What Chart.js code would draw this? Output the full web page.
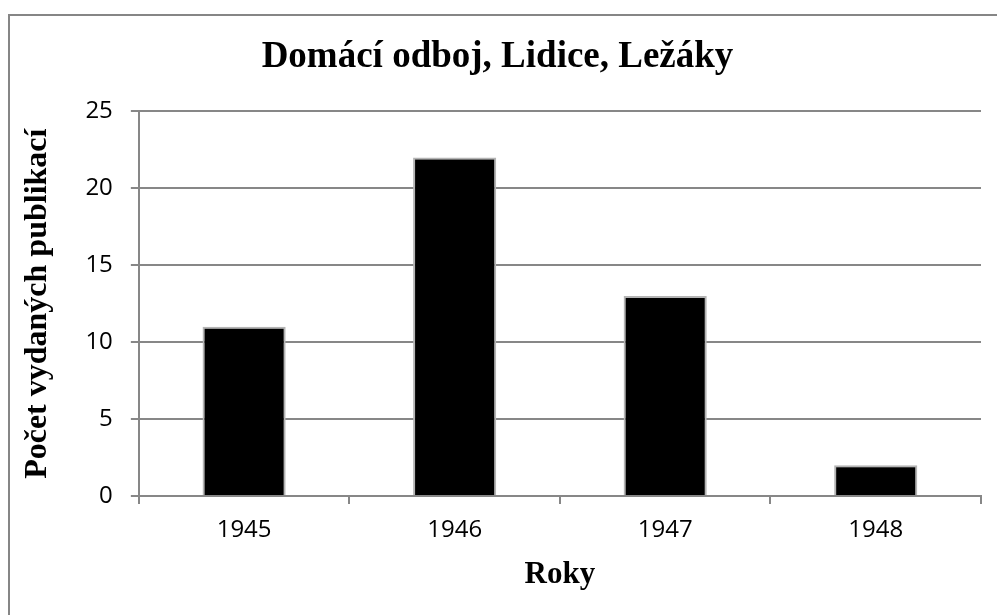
<!DOCTYPE html>
<html>
<head>
<meta charset="utf-8">
<script src="https://cdn.jsdelivr.net/npm/chart.js@4.4.0/dist/chart.umd.min.js"></script>
<style>
  html, body { margin: 0; padding: 0; background: #fff; overflow: hidden; width: 997px; height: 615px; }
  #box {
    position: absolute; left: 8px; top: 14px; width: 1001px; height: 620px;
    border-left: 2px solid #868686; border-top: 2px solid #868686; box-sizing: border-box;
  }
  #chart { display: block; }
</style>
</head>
<body>
<div id="box"><canvas id="chart" width="999" height="618"></canvas></div>
<script>
// data
const years = ['1945', '1946', '1947', '1948'];
const publications = [11, 22, 13, 2];
const yTicks = [0, 5, 10, 15, 20, 25];

const TITLE_FONT = "'Liberation Serif', 'Times New Roman', serif";
const TICK_FONT = "'Open Sans', 'Noto Sans', sans-serif";
const GRID = '#878787';

new Chart(document.getElementById('chart'), {
  type: 'bar',
  data: {
    labels: years,
    datasets: [{
      data: publications,
      backgroundColor: '#000',
      borderColor: '#b4b4b4',
      borderWidth: 2,
      borderSkipped: 'start',
      categoryPercentage: 1,
      barPercentage: 0.395,
    }],
  },
  options: {
    responsive: false,
    animation: false,
    layout: { padding: { top: 10, right: 28, bottom: 40, left: 4 } },
    plugins: {
      legend: { display: false },
      tooltip: { enabled: false },
      title: {
        display: true,
        text: 'Domácí odboj, Lidice, Ležáky',
        color: '#000',
        font: { family: TITLE_FONT, size: 37, weight: 'bold' },
        padding: { top: 9, bottom: 32 },
      },
    },
    scales: {
      x: {
        grid: { display: true, drawOnChartArea: false, color: GRID, lineWidth: 2, tickLength: 8 },
        border: { color: GRID, width: 2 },
        ticks: { color: '#000', font: { family: TICK_FONT, size: 24 }, padding: 12 },
        title: {
          display: true, text: 'Roky', color: '#000',
          font: { family: TITLE_FONT, size: 31, weight: 'bold' },
          padding: { top: 0, bottom: 0 },
        },
      },
      y: {
        min: 0, max: 25,
        afterBuildTicks: axis => { axis.ticks = yTicks.map(v => ({ value: v })); },
        grid: { color: GRID, lineWidth: 2, tickLength: 8 },
        border: { color: GRID, width: 2 },
        ticks: { color: '#000', font: { family: TICK_FONT, size: 24 }, padding: 18 },
        title: {
          display: true, text: 'Počet vydaných publikací', color: '#000',
          font: { family: TITLE_FONT, size: 32, weight: 'bold' },
          padding: { top: 5, bottom: 10 },
        },
      },
    },
  },
});
</script>
</body>
</html>
